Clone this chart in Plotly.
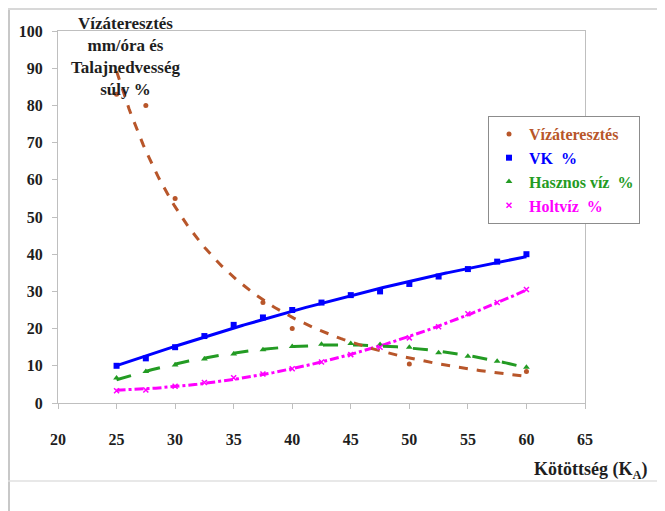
import numpy as np
import plotly.graph_objects as go

# ---- data ----
x_viz = [25, 27.5, 30, 37.5, 40, 50, 60]
y_viz = [83, 80, 55, 27, 20, 10.5, 8.5]

x_k = [25, 27.5, 30, 32.5, 35, 37.5, 40, 42.5, 45, 47.5, 50, 52.5, 55, 57.5, 60]
vk = [10, 12, 15, 18, 21, 23, 25, 27, 29, 30, 32, 34, 36, 38, 40]
hasznos = [6.7, 8.5, 10.2, 11.8, 13.2, 14.3, 15.2, 15.8, 16, 15.7, 15, 13.5, 12.6, 11.2, 9.6]
holt = [3.3, 3.5, 4.5, 5.5, 6.8, 7.8, 9.2, 11, 13, 15, 17.5, 20.5, 24, 27, 30.5]

x_ticks = [20, 25, 30, 35, 40, 45, 50, 55, 60, 65]
y_ticks = [0, 10, 20, 30, 40, 50, 60, 70, 80, 90, 100]

C_BROWN = "#B8562A"
C_BLUE = "#0000FF"
C_GREEN = "#239B23"
C_MAG = "#FF00FF"
FONT = "Liberation Serif"

# page offset of the figure (browser body margin)
OFF = 8
L, T, R, B = 58 - OFF, 31 - OFF, 585 - OFF, 403 - OFF   # plot area in figure px
W, H = 665, 511
PW, PH = R - L, B - T

def px(xp):  # page x -> paper
    return (xp - OFF - L) / PW

def py(yp):  # page y -> paper
    return (B - (yp - OFF)) / PH

xs = np.linspace(min(x_k), max(x_k), 200)

# power trendline for Vízáteresztés (fitted from the points)
b, a = np.polyfit(np.log(x_viz), np.log(y_viz), 1)
viz_fit = np.exp(a) * xs ** b
# polynomial (2nd order) trendlines
vk_fit = np.polyval(np.polyfit(x_k, vk, 2), xs)
h_fit = np.polyval(np.polyfit(x_k, hasznos, 2), xs)
ho_fit = np.polyval(np.polyfit(x_k, holt, 2), xs)

fig = go.Figure()

def lab(t, c):
    return f"<span style='color:{c}'><b>{t}</b></span>"

# trendlines
fig.add_trace(go.Scatter(x=xs, y=ho_fit, mode="lines", showlegend=False, hoverinfo="skip",
                         line=dict(color=C_MAG, width=3, dash="dashdot")))
fig.add_trace(go.Scatter(x=xs, y=h_fit, mode="lines", showlegend=False, hoverinfo="skip",
                         line=dict(color=C_GREEN, width=3, dash="longdash")))
fig.add_trace(go.Scatter(x=xs, y=vk_fit, mode="lines", showlegend=False, hoverinfo="skip",
                         line=dict(color=C_BLUE, width=3, dash="solid")))
fig.add_trace(go.Scatter(x=xs, y=viz_fit, mode="lines", showlegend=False, hoverinfo="skip",
                         line=dict(color=C_BROWN, width=3, dash="dash")))

# data points
fig.add_trace(go.Scatter(x=x_viz, y=y_viz, mode="markers", name=lab("Vízáteresztés", C_BROWN),
                         marker=dict(color=C_BROWN, size=5, symbol="circle")))
fig.add_trace(go.Scatter(x=x_k, y=vk, mode="markers", name=lab("VK  %", C_BLUE),
                         marker=dict(color=C_BLUE, size=6, symbol="square")))
fig.add_trace(go.Scatter(x=x_k, y=hasznos, mode="markers", name=lab("Hasznos víz  %", C_GREEN),
                         marker=dict(color=C_GREEN, size=6, symbol="triangle-up")))
fig.add_trace(go.Scatter(x=x_k, y=holt, mode="markers", name=lab("Holtvíz  %", C_MAG),
                         marker=dict(color=C_MAG, size=5, symbol="x-thin-open", line=dict(color=C_MAG, width=1.5))))

tickfont = dict(family=FONT, size=16, color="#1E1E1E", weight="bold")
axis_common = dict(showgrid=False, zeroline=False, showline=True, linecolor="#BFBFBF", linewidth=1,
                   mirror=True, ticks="outside", ticklen=5, tickcolor="#BFBFBF", tickfont=tickfont)

fig.update_xaxes(range=[20, 65], tickvals=x_ticks, ticktext=[f"<b>{v}</b>" for v in x_ticks],
                 ticklabelstandoff=17, **axis_common)
fig.update_yaxes(range=[0, 100], tickvals=y_ticks, ticktext=[f"<b>{v}</b>" for v in y_ticks],
                 ticklabelstandoff=6, **axis_common)

fig.update_layout(
    width=W, height=H,
    margin=dict(l=L, r=W - R, t=T, b=H - B),
    paper_bgcolor="white", plot_bgcolor="white",
    font=dict(family=FONT, size=16, color="#1E1E1E"),
    legend=dict(x=px(488), y=py(116), xanchor="left", yanchor="top",
                bgcolor="white", bordercolor="#8C8C8C", borderwidth=1,
                font=dict(family=FONT, size=16), itemwidth=30),
    annotations=[
        dict(text="<b>Vízáteresztés<br>mm/óra és<br>Talajnedvesség<br>súly %</b>",
             xref="paper", yref="paper", x=px(125), y=py(12),
             xanchor="center", yanchor="top", showarrow=False, align="center",
             font=dict(family=FONT, size=17, color="#1E1E1E")),
        dict(text="<b>Kötöttség (K<sub>A</sub>)</b>",
             xref="paper", yref="paper", x=px(650), y=py(457),
             xanchor="right", yanchor="top", showarrow=False,
             font=dict(family=FONT, size=18, color="#1E1E1E")),
    ],
    shapes=[
        dict(type="line", xref="paper", yref="paper", x0=px(OFF + 1), x1=px(OFF + 1),
             y0=py(OFF), y1=py(OFF + H), line=dict(color="#C8C8C8", width=2)),
        dict(type="line", xref="paper", yref="paper", x0=px(OFF), x1=px(OFF + W),
             y0=py(OFF + 1), y1=py(OFF + 1), line=dict(color="#D8D8D8", width=2)),
        dict(type="line", xref="paper", yref="paper", x0=px(OFF), x1=px(OFF + W),
             y0=py(481), y1=py(481), line=dict(color="#E0E0E0", width=1.5)),
    ],
)

fig.write_html("out.html")
